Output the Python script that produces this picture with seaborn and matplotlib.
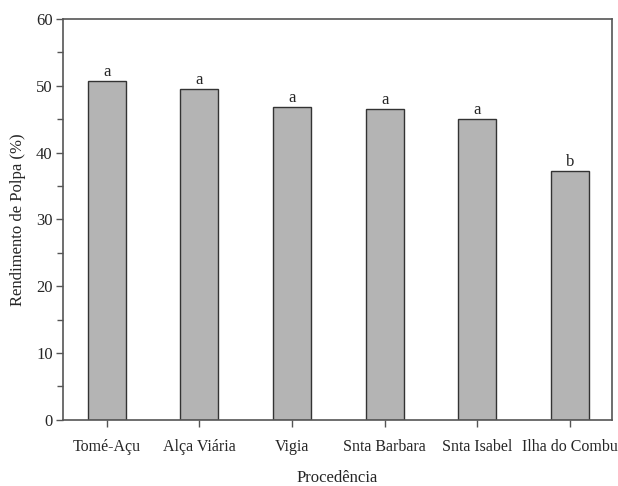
import matplotlib
matplotlib.use("Agg")
import matplotlib.pyplot as plt
import seaborn as sns
import pandas as pd
from matplotlib.ticker import MultipleLocator

procedencia = ["Tomé-Açu", "Alça Viária", "Vigia", "Snta Barbara", "Snta Isabel", "Ilha do Combu"]
rendimento = [50.7, 49.5, 46.8, 46.5, 45.1, 37.3]
letras = ["a", "a", "a", "a", "a", "b"]

df = pd.DataFrame({"Procedência": procedencia, "Rendimento": rendimento})

sns.set_style("ticks")
plt.rcParams["font.family"] = ["Liberation Serif", "DejaVu Serif"]

fig = plt.figure(figsize=(6.18, 4.86), dpi=100)
ax = fig.add_axes([0.102, 0.136, 0.888, 0.825])

sns.barplot(data=df, x="Procedência", y="Rendimento", color="#b4b4b4",
            edgecolor="#333333", linewidth=1.0, width=0.41, saturation=1, ax=ax)

for i, (v, l) in enumerate(zip(rendimento, letras)):
    ax.text(i, v + 0.15, l, ha="center", va="bottom", fontsize=12)

ax.set_ylim(0, 60)
ax.set_xlim(-0.47, 5.45)
ax.yaxis.set_major_locator(MultipleLocator(10))
ax.yaxis.set_minor_locator(MultipleLocator(5))
ax.tick_params(axis="both", which="major", direction="out", length=5, width=1,
               color="#555555", labelsize=12)
ax.tick_params(axis="x", pad=9, labelsize=11.5)
ax.tick_params(axis="y", pad=2.5)
ax.tick_params(axis="y", which="minor", direction="out", length=4, width=1, color="#555555")
for s in ax.spines.values():
    s.set_visible(True)
    s.set_color("#555555")
    s.set_linewidth(1.2)

ax.set_xlabel("Procedência", fontsize=12, labelpad=10.5)
ax.set_ylabel("Rendimento de Polpa (%)", fontsize=12, labelpad=7)

fig.savefig("out.png", dpi=100)
